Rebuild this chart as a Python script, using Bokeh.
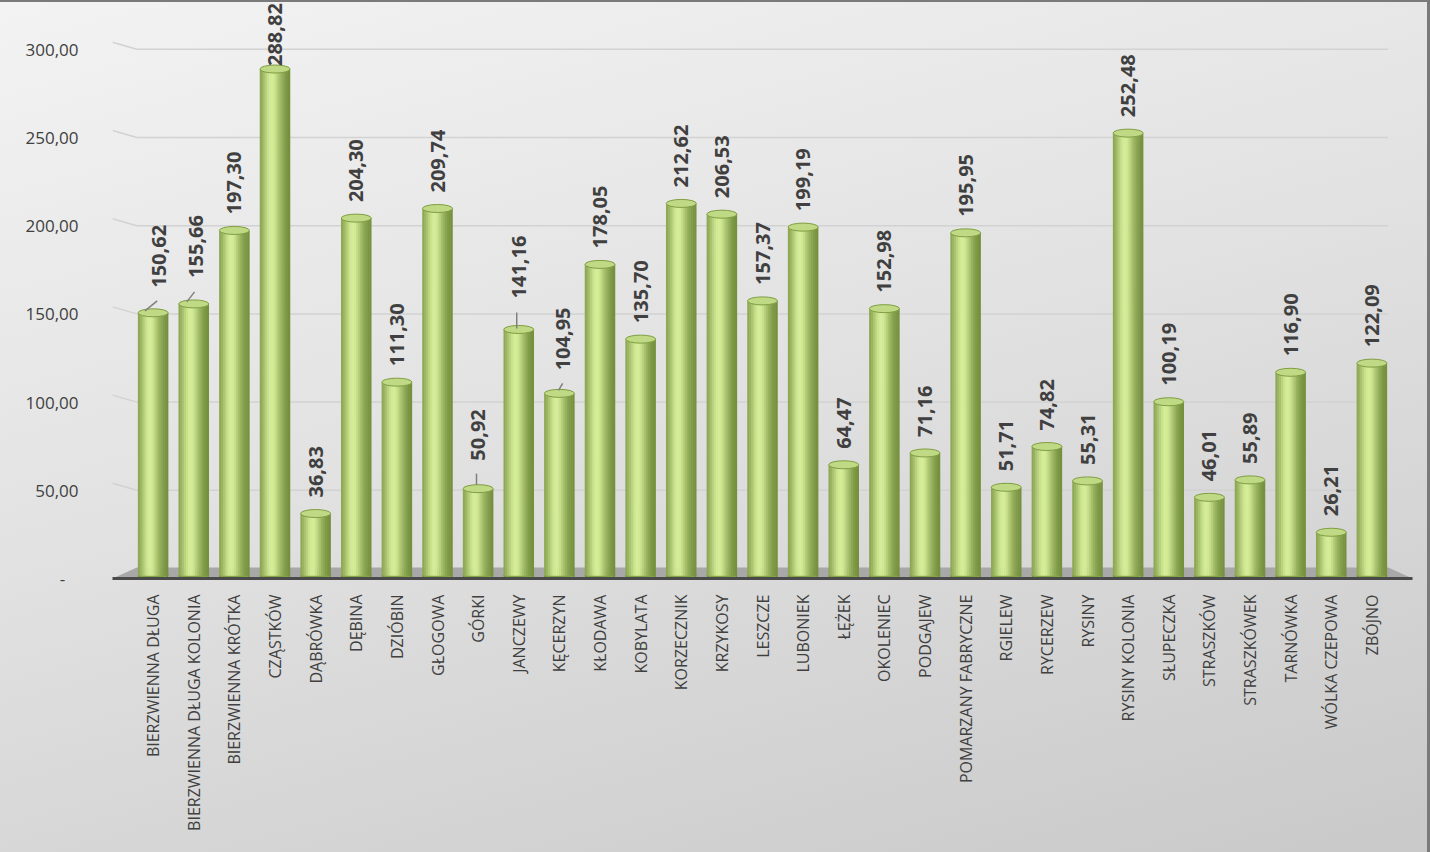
import math
from bokeh.plotting import figure
from bokeh.models import ColumnDataSource, FactorRange, Range1d, FixedTicker
from bokeh.core.properties import value
from bokeh.embed import file_html
from bokeh.resources import INLINE

# ---------------- data ----------------
CATEGORIES = [
    "BIERZWIENNA DŁUGA", "BIERZWIENNA DŁUGA KOLONIA", "BIERZWIENNA KRÓTKA", "CZĄSTKÓW",
    "DĄBRÓWKA", "DĘBINA", "DZIÓBIN", "GŁOGOWA", "GÓRKI", "JANCZEWY", "KĘCERZYN",
    "KŁODAWA", "KOBYLATA", "KORZECZNIK", "KRZYKOSY", "LESZCZE", "LUBONIEK", "ŁĘŻEK",
    "OKOLENIEC", "PODGAJEW", "POMARZANY FABRYCZNE", "RGIELEW", "RYCERZEW", "RYSINY",
    "RYSINY KOLONIA", "SŁUPECZKA", "STRASZKÓW", "STRASZKÓWEK", "TARNÓWKA",
    "WÓLKA CZEPOWA", "ZBÓJNO",
]
VALUES = [
    150.62, 155.66, 197.30, 288.82, 36.83, 204.30, 111.30, 209.74, 50.92, 141.16, 104.95,
    178.05, 135.70, 212.62, 206.53, 157.37, 199.19, 64.47, 152.98, 71.16, 195.95,
    51.71, 74.82, 55.31, 252.48, 100.19, 46.01, 55.89, 116.90, 26.21, 122.09,
]
Y_TICKS = [0, 50, 100, 150, 200, 250, 300]
Y_TICK_LABELS = ["-\u00a0\u00a0\u00a0", "50,00", "100,00", "150,00", "200,00", "250,00", "300,00"]

# ---------------- layout / style ----------------
W, H = 1430, 852
B_LEFT, B_RIGHT, B_TOP, B_BOTTOM = 112, 18, 2, 274
PX = 1.764                                    # screen px per data unit
Y_END = (H - B_TOP - B_BOTTOM) / PX
BW = 0.74                                     # bar width (category units)
BASE = 1.5                                    # bar foot above the axis line
FONT = "Open Sans"
TXT = "#404040"

# label offset (px) and leader line geometry for displaced labels
DEFAULT_OFF = 16
LABEL_OFF = {0: 25, 1: 26, 3: 3, 8: 28, 9: 31, 10: 23}
LABEL_DX = {0: 0.15, 1: 0.05, 8: 0.0, 9: 0.0, 10: 0.08}
LEADERS = {  # (dx0, px0, dx1, px1)
    0: (-0.20, 2, 0.10, 12),
    1: (-0.17, 2, 0.02, 12),
    8: (-0.04, 4, -0.04, 15),
    9: (-0.05, 1, -0.05, 17),
    10: (-0.02, 3, 0.08, 10),
}

n = len(CATEGORIES)
xs = [i + 0.5 for i in range(n)]

p = figure(
    x_range=FactorRange(factors=CATEGORIES, range_padding=0.5, range_padding_units="absolute"),
    y_range=Range1d(0, Y_END),
    width=W, height=H,
    output_backend="svg", toolbar_location=None,
    min_border_left=B_LEFT, min_border_right=B_RIGHT,
    min_border_top=B_TOP, min_border_bottom=B_BOTTOM,
)
p.background_fill_alpha = 0
p.border_fill_alpha = 0
p.outline_line_color = None
p.styles = {
    "background": "linear-gradient(165deg, #f3f3f3 0%, #e2e2e2 45%, #c9c9c9 100%)",
    "box-shadow": "inset -3px 2px 0 #7a7a7a",
}
p.xgrid.grid_line_color = None
p.ygrid.grid_line_color = None

# gridlines on the back wall (+ small slanted piece on the left side wall)
gy = [t for t in Y_TICKS if t > 0]
p.segment(x0=[0.1] * len(gy), y0=gy, x1=[n - 0.1] * len(gy), y1=gy,
          line_color="#d2d2d2", line_width=1.5)
p.segment(x0=[-0.5] * len(gy), y0=[t + 7 / PX for t in gy], x1=[0.1] * len(gy), y1=gy,
          line_color="#d2d2d2", line_width=1.5)

# floor
p.patch(x=[-0.5, 0.1, n - 0.1, n + 0.5], y=[0, 6.3, 6.3, 0],
        fill_color="#a8a8a8", line_color=None)

src = ColumnDataSource(dict(x=xs, v=VALUES))

# rounded foot
p.ellipse(x="x", y=BASE, width=BW, height=7, height_units="screen", source=src,
          fill_color="#84a446", line_color="#6c8a32", line_width=1)

# cylinder body from vertical stripes
DARK = (92, 120, 38)
LIGHT = (214, 238, 152)
NS = 16
for k in range(NS):
    t = (k + 0.5) / NS
    f = 0.25 + 0.75 * math.exp(-((t - 0.40) / 0.30) ** 2)
    if t > 0.8:
        f *= 1 - (t - 0.8) * 1.2
    c = tuple(int(DARK[j] + (LIGHT[j] - DARK[j]) * f) for j in range(3))
    col = "#%02x%02x%02x" % c
    p.vbar(x=[x + (t - 0.5) * BW for x in xs], bottom=BASE, top=VALUES,
           width=BW / NS * 1.25, fill_color=col, line_color=None)

# top cap
p.ellipse(x="x", y="v", width=BW, height=8, height_units="screen", source=src,
          fill_color="#bfd985", line_color="#7f9e41", line_width=1)

# leader lines
for i, (a0, q0, a1, q1) in LEADERS.items():
    p.segment(x0=[xs[i] + a0], y0=[VALUES[i] + q0 / PX], x1=[xs[i] + a1], y1=[VALUES[i] + q1 / PX],
              line_color="#7f7f7f", line_width=1.5)

# value labels
lab = dict(
    x=[xs[i] + LABEL_DX.get(i, 0.0) for i in range(n)],
    y=[VALUES[i] + LABEL_OFF.get(i, DEFAULT_OFF) / PX for i in range(n)],
    t=[("%.2f" % v).replace(".", ",") for v in VALUES],
)
p.text(x="x", y="y", text="t", source=ColumnDataSource(lab), angle=math.pi / 2,
       text_align="left", text_baseline="middle", text_font=value(FONT),
       text_font_style="bold", text_font_size="20px", text_color=TXT)

# axes
ya = p.yaxis[0]
ya.ticker = FixedTicker(ticks=Y_TICKS)
ya.major_label_overrides = {t: s for t, s in zip(Y_TICKS, Y_TICK_LABELS)}
ya.axis_line_color = None
ya.major_tick_line_color = None
ya.minor_tick_line_color = None
ya.major_label_standoff = 28
ya.major_label_text_font = FONT
ya.major_label_text_font_size = "17px"
ya.major_label_text_color = TXT

xa = p.xaxis[0]
xa.axis_line_color = "#4a4a4a"
xa.axis_line_width = 3
xa.major_tick_line_color = None
xa.minor_tick_line_color = None
xa.major_label_orientation = math.pi / 2
xa.major_label_standoff = 10
xa.major_label_text_font = FONT
xa.major_label_text_font_size = "16px"
xa.major_label_text_color = TXT

open("out.html", "w").write(file_html(p, INLINE))
